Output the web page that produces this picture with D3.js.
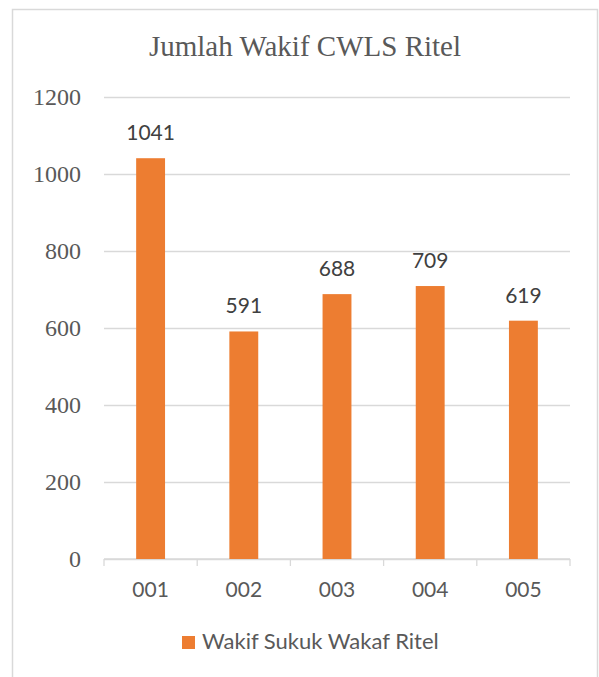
<!DOCTYPE html>
<html>
<head>
<meta charset="utf-8">
<script src="https://cdn.jsdelivr.net/npm/d3@7"></script>
<style>
  body { margin: 0; background: #fff; }
  .yLabel { font-family: "Liberation Serif", serif; font-size: 24px; fill: #595959; }
  .xLabel { font-family: Lato, sans-serif; font-size: 21px; fill: #595959; }
  .valueText { font-family: Lato, sans-serif; font-size: 21px; fill: #404040; }
</style>
</head>
<body>
<div id="chart"></div>
<script>
// chart data
var seri = ["001", "002", "003", "004", "005"];
var jumlahWakif = [1041, 591, 688, 709, 619];
var yTicks = [0, 200, 400, 600, 800, 1000, 1200];
var judul = "Jumlah Wakif CWLS Ritel";
var namaSeri = "Wakif Sukuk Wakaf Ritel";

var svgWidth = 599;
var svgHeight = 677;

var margin = { top: 97, right: 29, bottom: 118, left: 104 };
var width = svgWidth - margin.left - margin.right;
var height = svgHeight - margin.top - margin.bottom;

var svg = d3.select("#chart")
  .append("svg")
  .attr("width", svgWidth)
  .attr("height", svgHeight);

// outer frame (bottom edge falls outside the picture)
svg.append("rect")
  .attr("x", 12.5)
  .attr("y", 9.5)
  .attr("width", 585)
  .attr("height", 700)
  .attr("fill", "none")
  .attr("stroke", "#d9d9d9")
  .attr("stroke-width", 1.5);

// title
svg.append("text")
  .attr("x", 305)
  .attr("y", 56)
  .attr("text-anchor", "middle")
  .attr("font-family", "Liberation Serif, serif")
  .attr("font-size", "29px")
  .attr("fill", "#595959")
  .text(judul);

var chartGroup = svg.append("g")
  .attr("transform", `translate(${margin.left}, ${margin.top})`);

var data = seri.map(function(s, i) {
  return { seri: s, nilai: jumlahWakif[i] };
});

// scales
var xBandScale = d3.scaleBand()
  .domain(seri)
  .range([0, width])
  .paddingInner(0.69)
  .paddingOuter(0.345);

var yLinearScale = d3.scaleLinear()
  .domain([0, 1200])
  .range([height, 0]);

// y axis + gridlines
var yAxis = d3.axisLeft(yLinearScale)
  .tickValues(yTicks)
  .tickFormat(d3.format("d"))
  .tickSize(-width)
  .tickPadding(23);

var yAxisGroup = chartGroup.append("g").call(yAxis);
yAxisGroup.select(".domain").remove();
yAxisGroup.selectAll("line")
  .attr("stroke", "#d9d9d9")
  .attr("stroke-width", 1.3);
yAxisGroup.selectAll("text")
  .attr("class", "yLabel")
  .attr("dy", "0.32em")
  .attr("font-family", null)
  .attr("font-size", null)
  .attr("fill", null);

// x axis baseline with category boundary ticks
var xAxisGroup = chartGroup.append("g")
  .attr("transform", `translate(0, ${height})`);

xAxisGroup.append("line")
  .attr("x1", 0)
  .attr("x2", width)
  .attr("stroke", "#d9d9d9")
  .attr("stroke-width", 1.3);

var batas = seri.map(function(s) { return xBandScale(s) - xBandScale.step() * xBandScale.paddingInner() / 2; });
batas.push(width);
batas[0] = 0;

xAxisGroup.selectAll(".batas")
  .data(batas)
  .enter()
  .append("line")
  .attr("class", "batas")
  .attr("x1", d => d)
  .attr("x2", d => d)
  .attr("y1", 0)
  .attr("y2", 7)
  .attr("stroke", "#d9d9d9")
  .attr("stroke-width", 1.3);

xAxisGroup.selectAll(".xLabel")
  .data(seri)
  .enter()
  .append("text")
  .attr("class", "xLabel")
  .attr("x", d => xBandScale(d) + xBandScale.bandwidth() / 2)
  .attr("y", 38)
  .attr("text-anchor", "middle")
  .text(d => d);

// bars
chartGroup.selectAll(".bar")
  .data(data)
  .enter()
  .append("rect")
  .attr("class", "bar")
  .attr("x", d => xBandScale(d.seri))
  .attr("y", d => yLinearScale(d.nilai))
  .attr("width", xBandScale.bandwidth())
  .attr("height", d => height - yLinearScale(d.nilai))
  .attr("fill", "#ed7d31");

// value labels
chartGroup.selectAll(".valueText")
  .data(data)
  .enter()
  .append("text")
  .attr("class", "valueText")
  .attr("x", d => xBandScale(d.seri) + xBandScale.bandwidth() / 2)
  .attr("y", d => yLinearScale(d.nilai) - 18)
  .attr("text-anchor", "middle")
  .text(d => d.nilai);

// legend
var legend = svg.append("g")
  .attr("transform", "translate(182, 636)");

legend.append("rect")
  .attr("width", 13)
  .attr("height", 13)
  .attr("fill", "#ed7d31");

legend.append("text")
  .attr("x", 20)
  .attr("y", 13)
  .attr("font-family", "Lato, sans-serif")
  .attr("font-size", "22px")
  .attr("fill", "#595959")
  .text(namaSeri);
</script>
</body>
</html>
